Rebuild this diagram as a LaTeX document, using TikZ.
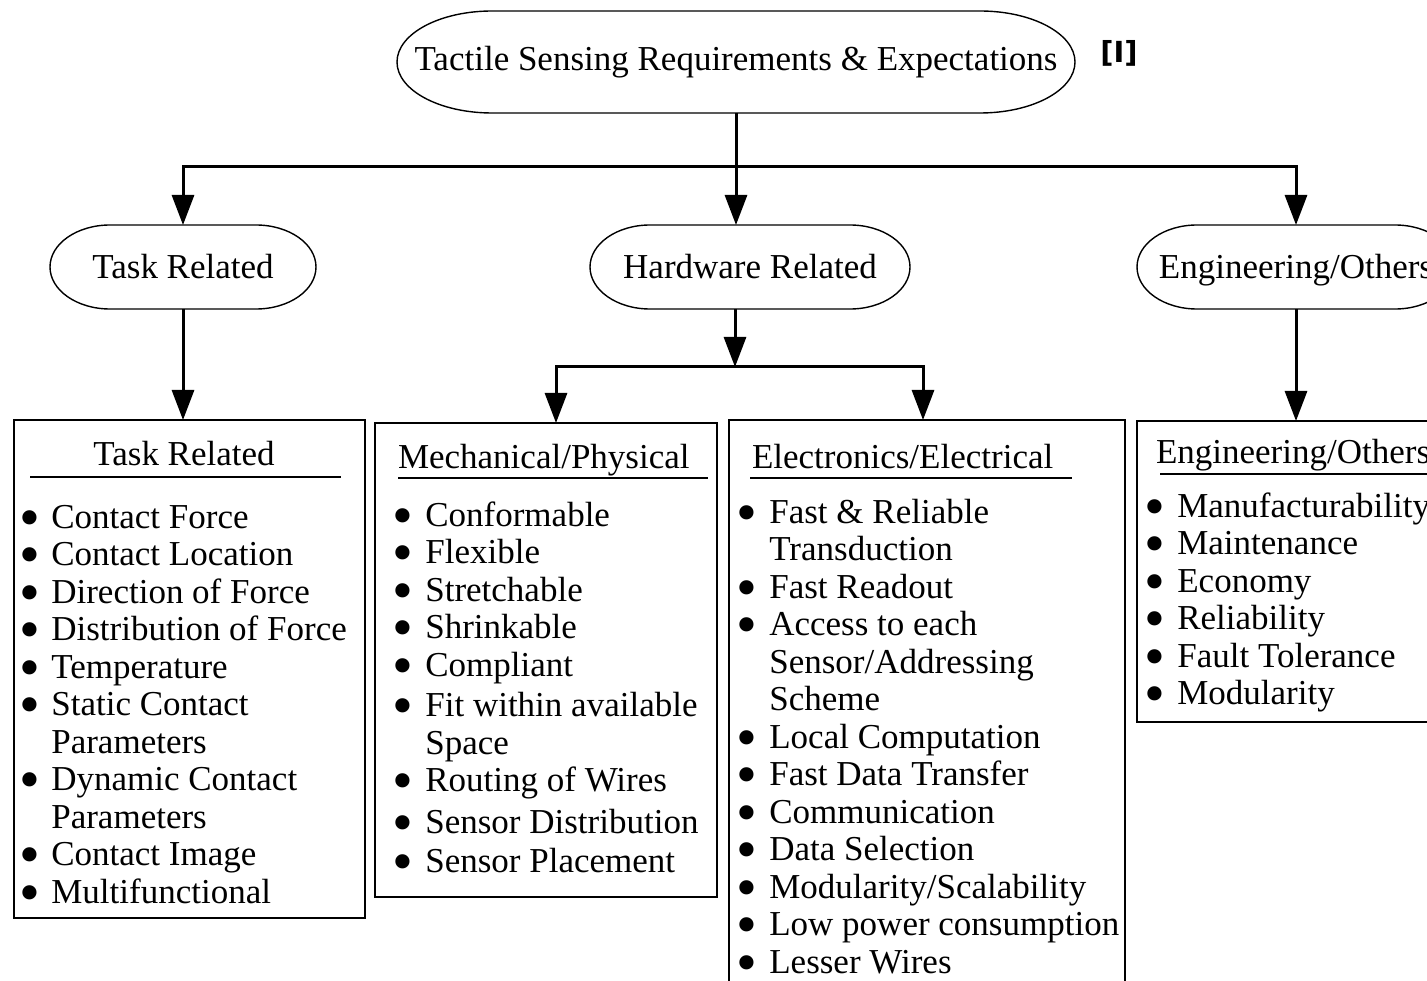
\documentclass[tikz,border=0pt]{standalone}
\usepackage{fontspec}
\setmainfont{Liberation Serif}
\newfontfamily\citefont{DejaVu Sans}
\usepackage{graphicx}
\usetikzlibrary{arrows.meta,positioning,calc}
\tikzset{>=Triangle}
\newcommand{\bl}{\raisebox{-9pt}{\scalebox{1.7}{\textbullet}}}
\newcommand{\drawoval}[2]{%
  \draw[ovalline] let \p1=(#1.north), \p2=(#1.south), \n1={(\y1-\y2)/2} in
    ($(#1.north west)+(#2pt,0)$) -- ($(#1.north east)+(-#2pt,0)$)
    arc[start angle=90,end angle=-90,x radius=#2pt,y radius=\n1]
    -- ($(#1.south west)+(#2pt,0)$)
    arc[start angle=270,end angle=90,x radius=#2pt,y radius=\n1] -- cycle;}

\begin{document}
\begin{tikzpicture}[x=1pt, y=1pt,
    every node/.style={font=\fontsize{35}{37.5}\selectfont, inner sep=0pt, outer sep=0pt},
    oval/.style={minimum height=84pt},
    ovaltext/.style={text height=24pt, text depth=0pt},
    ovalline/.style={line width=1.4pt},
    box/.style={draw, line width=1.4pt, anchor=north west},
    itemlist/.style={anchor=north west, align=left},
    rule/.style={line width=1.8pt},
    conn/.style={line width=3pt},
    arrow/.style={line width=3pt, -{Triangle[length=30pt,width=22pt]}}]
    \useasboundingbox (0,0) rectangle (1427,-981);
    \clip (0,0) rectangle (1427,-981);

    % top level
    \node[oval, minimum width=678pt, minimum height=102pt] (title) at (736,-62) {Tactile Sensing Requirements \& Expectations};
    \drawoval{title}{95}
    \node[font=\citefont\bfseries\fontsize{29}{29}\selectfont] (cite) at (1119,-53) {[I]};

    % second level
    \node[oval, ovaltext, minimum width=266pt] (task) at (183,-267) {Task Related};
    \node[oval, ovaltext, minimum width=320pt] (hw) at (750,-267) {Hardware Related};
    \node[oval, ovaltext, minimum width=318pt] (eng) at (1296,-267) {Engineering/Others};
    \foreach \ov in {task,hw,eng}
    {
        \drawoval{\ov}{60}
    }

    % list boxes
    \node[box, minimum width=351pt, minimum height=498pt] (taskbox) at (14,-420) {};
    \node[box, minimum width=342pt, minimum height=474pt] (mechbox) at (375,-423) {};
    \node[box, minimum width=396pt, minimum height=600pt] (elecbox) at (729,-420) {};
    \node[box, minimum width=330pt, minimum height=301pt] (engbox) at (1137,-421) {};

    \node[anchor=base] (taskhead) at (184,-465) {Task Related};
    \node[anchor=base west] (mechhead) at (398,-468) {Mechanical/Physical};
    \node[anchor=base west] (elechead) at (752,-468) {Electronics/Electrical};
    \node[anchor=base west] (enghead) at (1156,-463) {Engineering/Others};
    \draw[rule] (30,-477) -- (341,-477);
    \draw[rule] (398,-478) -- (708,-478);
    \draw[rule] (750,-478) -- (1072,-478);
    \draw[rule] (1160,-474) -- (1440,-474);

    \node[itemlist] (tasklist) at (19.5,-502) {%
        \begin{tabular}{@{}l@{\hspace{11pt}}l@{}}
        \bl & Contact Force\\
        \bl & Contact Location\\
        \bl & Direction of Force\\
        \bl & Distribution of Force\\
        \bl & Temperature\\
        \bl & Static Contact\\
            & Parameters\\
        \bl & Dynamic Contact\\
            & Parameters\\
        \bl & Contact Image\\
        \bl & Multifunctional
        \end{tabular}};
    \node[itemlist] (mechlist) at (392.5,-500) {%
        \begin{tabular}{@{}l@{\hspace{12pt}}l@{}}
        \bl & Conformable\\
        \bl & Flexible\\
        \bl & Stretchable\\
        \bl & Shrinkable\\
        \bl & Compliant\\[3pt]
        \bl & Fit within available\\
            & Space\\
        \bl & Routing of Wires\\[4pt]
        \bl & Sensor Distribution\\[2pt]
        \bl & Sensor Placement
        \end{tabular}};
    \node[itemlist] (eleclist) at (736.5,-497) {%
        \begin{tabular}{@{}l@{\hspace{12pt}}l@{}}
        \bl & Fast \& Reliable\\
            & Transduction\\
        \bl & Fast Readout\\
        \bl & Access to each\\
            & Sensor/Addressing\\
            & Scheme\\
        \bl & Local Computation\\
        \bl & Fast Data Transfer\\
        \bl & Communication\\
        \bl & Data Selection\\
        \bl & Modularity/Scalability\\
        \bl & Low power consumption\\
        \bl & Lesser Wires
        \end{tabular}};
    \node[itemlist] (englist) at (1144.5,-491) {%
        \begin{tabular}{@{}l@{\hspace{12pt}}l@{}}
        \bl & Manufacturability\\
        \bl & Maintenance\\
        \bl & Economy\\
        \bl & Reliability\\
        \bl & Fault Tolerance\\
        \bl & Modularity
        \end{tabular}};

    % connectors
    \coordinate (split) at (736,-167);
    \coordinate (hwsplit) at (735,-367);
    \draw[conn] (title.south) -- (split);
    \draw[arrow] (split) -| (task.north);
    \draw[arrow] (split) -| (eng.north);
    \draw[arrow] (title.south) -- (title.south |- hw.north);
    \draw[arrow] (task.south) -- (task.south |- taskbox.north);
    \draw[arrow] (hw.south -| hwsplit) -- (hwsplit);
    \draw[arrow] (hwsplit) -| ($(mechbox.north)+(10,0)$);
    \draw[arrow] (hwsplit) -| ($(elecbox.north)+(-4,0)$);
    \draw[arrow] (eng.south) -- (eng.south |- engbox.north);
\end{tikzpicture}
\end{document}
